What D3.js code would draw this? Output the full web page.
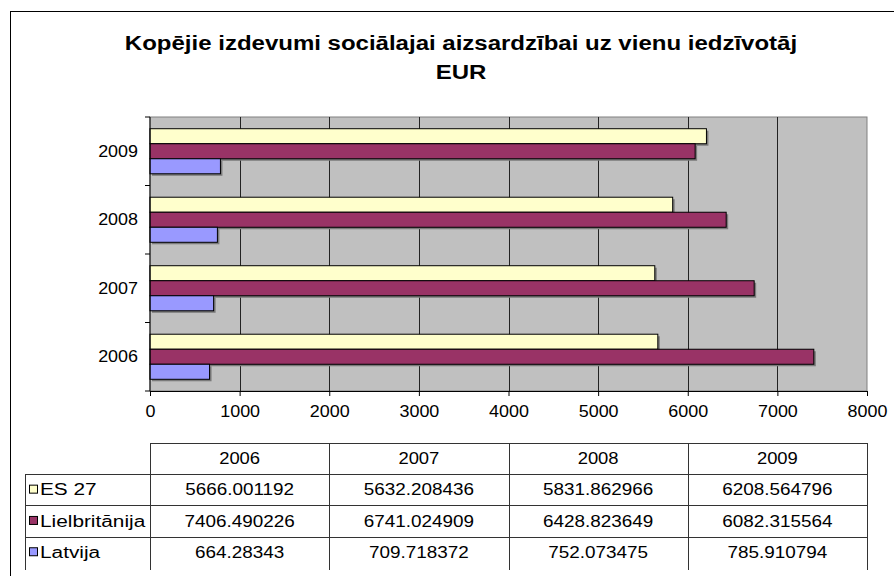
<!DOCTYPE html>
<html lang="lv">
<head>
    <meta charset="utf-8">
    <script type="text/javascript" src="https://d3js.org/d3.v7.min.js"></script>
    <style>
        body { margin: 0; background: #fff; }
        text { font-family: "Liberation Sans", Arial, sans-serif; fill: #000; }
    </style>
</head>
<body>
    <script type="text/javascript">
        // SVG width and height
        let w = 894;
        let h = 576;

        // Data
        let years = ["2006", "2007", "2008", "2009"];
        let seriesNames = ["ES 27", "Lielbritānija", "Latvija"];
        let es27 = [5666.001192, 5632.208436, 5831.862966, 6208.564796];
        let lielbritanija = [7406.490226, 6741.024909, 6428.823649, 6082.315564];
        let latvija = [664.28343, 709.718372, 752.073475, 785.910794];
        let xTicks = [0, 1000, 2000, 3000, 4000, 5000, 6000, 7000, 8000];
        let titleLines = ["Kopējie izdevumi sociālajai aizsardzībai uz vienu iedzīvotāj", "EUR"];

        let seriesValues = [es27, lielbritanija, latvija];
        let colors = ["#FFFFCC", "#993366", "#9999FF"];

        // Plot area
        let plot = { left: 150, right: 867, top: 117, bottom: 391 };

        // Widen text a bit, the original text is drawn wider than Arial
        let stretch = function(sel, k) {
            sel.each(function() {
                let len = this.getComputedTextLength();
                d3.select(this)
                    .attr("textLength", len * k)
                    .attr("lengthAdjust", "spacingAndGlyphs");
            });
        };

        let svg = d3.select("body").append("svg")
            .attr("width", w)
            .attr("height", h);

        // Outer chart border
        svg.append("rect")
            .attr("x", 10.5).attr("y", 11.5)
            .attr("width", 900).attr("height", 600)
            .attr("fill", "none")
            .attr("stroke", "#000")
            .attr("stroke-width", 1);

        // Title
        let title = svg.selectAll(".title")
            .data(titleLines)
            .join("text")
                .attr("class", "title")
                .attr("x", 461)
                .attr("y", (d, i) => 50 + i * 29)
                .attr("text-anchor", "middle")
                .attr("font-size", "20px")
                .attr("font-weight", "bold")
                .text(d => d);
        stretch(title, 1.2);

        // Scales
        let x = d3.scaleLinear()
            .domain([0, 8000])
            .range([plot.left, plot.right]);

        let y = d3.scaleBand()
            .domain(years.slice().reverse())
            .range([plot.top, plot.bottom]);

        let yInner = d3.scaleBand()
            .domain(seriesNames)
            .range([0, y.bandwidth()])
            .paddingInner(0)
            .paddingOuter(0.78);

        // Plot background
        svg.append("rect")
            .attr("x", plot.left).attr("y", plot.top)
            .attr("width", plot.right - plot.left)
            .attr("height", plot.bottom - plot.top)
            .attr("fill", "#C0C0C0")
            .attr("stroke", "#808080")
            .attr("stroke-width", 1);

        // Vertical gridlines
        svg.selectAll(".grid")
            .data(xTicks.slice(1, -1))
            .join("line")
                .attr("class", "grid")
                .attr("x1", d => Math.round(x(d)) + 0.5)
                .attr("x2", d => Math.round(x(d)) + 0.5)
                .attr("y1", plot.top)
                .attr("y2", plot.bottom)
                .attr("stroke", "#222")
                .attr("stroke-width", 1);

        // Bars (one group per year)
        let groups = svg.selectAll(".year")
            .data(years)
            .join("g")
                .attr("class", "year")
                .attr("transform", d => "translate(0," + y(d) + ")");

        groups.each(function(year, yi) {
            let g = d3.select(this);
            let rows = seriesNames.map((s, si) => ({ name: s, value: seriesValues[si][yi], color: colors[si] }));

            // Shadow
            g.selectAll(".shadow")
                .data(rows)
                .join("rect")
                    .attr("class", "shadow")
                    .attr("x", x(0) + 2)
                    .attr("y", d => yInner(d.name) + 2)
                    .attr("width", d => x(d.value) - x(0))
                    .attr("height", yInner.bandwidth())
                    .attr("fill", "#7a7a7a");

            g.selectAll(".bar")
                .data(rows)
                .join("rect")
                    .attr("class", "bar")
                    .attr("x", x(0))
                    .attr("y", d => yInner(d.name))
                    .attr("width", d => x(d.value) - x(0))
                    .attr("height", yInner.bandwidth())
                    .attr("fill", d => d.color)
                    .attr("stroke", "#000")
                    .attr("stroke-width", 1);
        });

        // X axis
        let xAxis = d3.axisBottom(x)
            .tickValues(xTicks)
            .tickSize(5)
            .tickFormat(d3.format("d"));

        let gx = svg.append("g")
            .attr("transform", "translate(0," + plot.bottom + ")")
            .call(xAxis);
        gx.select(".domain").attr("stroke", "#000");
        gx.selectAll(".tick line").attr("stroke", "#000");
        gx.selectAll(".tick text")
            .attr("font-size", "16px")
            .attr("font-family", "'Liberation Sans', Arial, sans-serif")
            .attr("y", 15)
            .attr("dy", "0.71em");
        stretch(gx.selectAll(".tick text"), 1.12);

        // Y axis (ticks between categories)
        let gy = svg.append("g")
            .attr("transform", "translate(" + plot.left + ",0)");
        gy.append("line")
            .attr("x1", 0).attr("x2", 0)
            .attr("y1", plot.top).attr("y2", plot.bottom)
            .attr("stroke", "#000");
        gy.selectAll(".ytick")
            .data(years.slice().reverse().concat(["end"]))
            .join("line")
                .attr("class", "ytick")
                .attr("x1", -5).attr("x2", 0)
                .attr("y1", (d, i) => plot.top + i * y.step())
                .attr("y2", (d, i) => plot.top + i * y.step())
                .attr("stroke", "#000");
        let ylabels = gy.selectAll(".ylabel")
            .data(years)
            .join("text")
                .attr("class", "ylabel")
                .attr("x", -12)
                .attr("y", d => y(d) + y.bandwidth() / 2)
                .attr("dy", "0.35em")
                .attr("text-anchor", "end")
                .attr("font-size", "16px")
                .text(d => d);
        stretch(ylabels, 1.12);

        // Data table
        let col = d3.scaleBand()
            .domain(years)
            .range([plot.left, plot.right]);

        let table = { left: 25, top: 443, headerBottom: 474, rowH: 31.3, bottom: 570 };
        let table_g = svg.append("g").attr("stroke", "#333").attr("stroke-width", 1);

        // Header top line and vertical lines
        table_g.append("line")
            .attr("x1", plot.left).attr("x2", plot.right)
            .attr("y1", table.top + 0.5).attr("y2", table.top + 0.5);
        table_g.selectAll(".vline")
            .data(years.concat(["end"]))
            .join("line")
                .attr("class", "vline")
                .attr("x1", (d, i) => Math.round(plot.left + i * col.step()) + 0.5)
                .attr("x2", (d, i) => Math.round(plot.left + i * col.step()) + 0.5)
                .attr("y1", table.top)
                .attr("y2", table.bottom);
        table_g.append("line")
            .attr("x1", table.left + 0.5).attr("x2", table.left + 0.5)
            .attr("y1", table.headerBottom).attr("y2", table.bottom);

        // Horizontal row lines
        table_g.selectAll(".hline")
            .data(seriesNames)
            .join("line")
                .attr("class", "hline")
                .attr("x1", table.left)
                .attr("x2", plot.right)
                .attr("y1", (d, i) => Math.round(table.headerBottom + i * table.rowH) + 0.5)
                .attr("y2", (d, i) => Math.round(table.headerBottom + i * table.rowH) + 0.5);

        // Header labels
        let heads = svg.selectAll(".colhead")
            .data(years)
            .join("text")
                .attr("class", "colhead")
                .attr("x", d => col(d) + col.bandwidth() / 2)
                .attr("y", (table.top + table.headerBottom) / 2)
                .attr("dy", "0.35em")
                .attr("text-anchor", "middle")
                .attr("font-size", "16px")
                .text(d => d);
        stretch(heads, 1.15);

        // Rows
        let rowsG = svg.selectAll(".row")
            .data(seriesNames)
            .join("g")
                .attr("class", "row")
                .attr("transform", (d, i) => "translate(0," + (table.headerBottom + i * table.rowH + table.rowH / 2) + ")");

        rowsG.append("rect")
            .attr("x", 29.5).attr("y", -4.5)
            .attr("width", 8).attr("height", 8)
            .attr("fill", (d, i) => colors[i])
            .attr("stroke", "#000")
            .attr("stroke-width", 1);

        let rowLabels = rowsG.append("text")
            .attr("x", 40)
            .attr("dy", "0.35em")
            .attr("font-size", "16px")
            .text(d => d);
        stretch(rowLabels, 1.3);

        rowsG.each(function(name, si) {
            let cells = d3.select(this).selectAll(".cell")
                .data(seriesValues[si])
                .join("text")
                    .attr("class", "cell")
                    .attr("x", (d, i) => col(years[i]) + col.bandwidth() / 2)
                    .attr("dy", "0.35em")
                    .attr("text-anchor", "middle")
                    .attr("font-size", "16px")
                    .text(d => String(d));
            stretch(cells, 1.18);
        });
    </script>
</body>
</html>
